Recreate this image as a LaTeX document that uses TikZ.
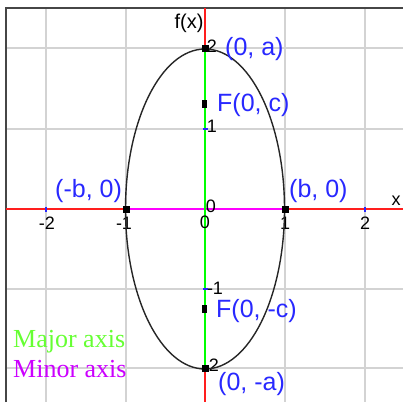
\documentclass[tikz,border=0pt]{standalone}
\usepackage{fontspec}
\setmainfont{Liberation Serif}
\newfontfamily\lsans{Liberation Sans}
\definecolor{gridgray}{RGB}{211,211,211}
\definecolor{framegray}{RGB}{70,70,70}
\definecolor{lblblue}{RGB}{40,40,255}
\definecolor{axred}{RGB}{255,30,30}
\definecolor{axgreen}{RGB}{0,255,0}
\definecolor{axmag}{RGB}{255,0,255}
\definecolor{leggreen}{RGB}{102,255,51}
\definecolor{legmag}{RGB}{204,0,255}
\tikzset{
  gridline/.style={draw=gridgray, line width=2pt},
  frameline/.style={draw=framegray, line width=1.2pt},
  axis/.style={draw=axred, line width=1.8pt},
  majoraxis/.style={draw=axgreen, line width=1.8pt},
  minoraxis/.style={draw=axmag, line width=1.8pt},
  curve/.style={draw=black!85, line width=1.4pt},
  pt/.style={fill=black, inner sep=0pt, minimum size=7pt, rectangle},
  fpt/.style={fill=black, inner sep=0pt, minimum width=5pt, minimum height=8pt, rectangle},
  blbl/.style={text=lblblue, font=\lsans\fontsize{25}{27}\selectfont, inner sep=0pt},
  tick/.style={text=black, font=\lsans\fontsize{18}{20}\selectfont, inner sep=0pt},
  btick/.style={draw=lblblue, line width=1.5pt},
  legend/.style={font=\fontsize{26}{28}\selectfont, inner sep=0pt, anchor=base west}
}
\begin{document}
\begin{tikzpicture}[x=1pt,y=-1pt]
\useasboundingbox (0,0) rectangle (403,402);
\fill[white] (0,0) rectangle (403,402);
% grid
\foreach \gx in {46,126,205,285,365} \draw[gridline] (\gx,8) -- (\gx,402);
\foreach \gy in {48,129,209,289,368} \draw[gridline] (6,\gy) -- (403,\gy);
% frame
\draw[frameline] (6,402) -- (6,8) -- (403,8);
% axes ends
\coordinate (xl) at (6,209);
\coordinate (xr) at (403,209);
\coordinate (yt) at (205,8);
\coordinate (yb) at (205,402);
\coordinate (O) at (205,209);
\draw[axis] (xl) -- (xr);
\draw[axis] (yt) -- (yb);
% key point positions
\coordinate (A)  at (205,48);
\coordinate (Am) at (205,368);
\coordinate (B)  at (285,209);
\coordinate (Bm) at (126,209);
% axes of the ellipse
\draw[minoraxis] (Bm) -- (B);
\draw[majoraxis] (A) -- (Am);
% small blue ticks
\foreach \gx in {46,365} \draw[btick] (\gx,206.5) -- (\gx,211.5);
\foreach \gy in {129,289} \draw[btick] (202.5,\gy) -- (207.5,\gy);
% tick labels
\node[tick] (tm2) at (47,223) {-2};
\node[tick] (tm1) at (124,223) {-1};
\node[tick] (t0a) at (205,222) {0};
\node[tick] (t0b) at (211,206) {0};
\node[tick] (t1)  at (285,223) {1};
\node[tick] (t2)  at (365,223) {2};
\node[tick] (ty1) at (212,126) {1};
\node[tick] (ty2) at (212,46) {2};
\node[tick] (tym1) at (215,288) {-1};
\node[tick] (tym2) at (214,365) {2};
\node[tick, font=\lsans\fontsize{18}{20}\selectfont] (xlab) at (396,201) {x};
\node[tick, font=\lsans\fontsize{20}{22}\selectfont] (fx) at (189,23) {f(x)};
% ellipse
\draw[curve] (O) ellipse [x radius=79.5, y radius=160];
% point markers
\node[pt] (PA)  at (A)  {};
\node[pt] (PAm) at (Am) {};
\node[pt] (PB)  at (B)  {};
\node[pt] (PBm) at (Bm) {};
\node[fpt] (F1) at (204,104) {};
\node[fpt] (F2) at (204,309) {};
% blue labels
\node[blbl, anchor=west] (lA)  at (225,49)  {(0, a)};
\node[blbl, anchor=west] (lF1) at (217,105) {F(0, c)};
\node[blbl, anchor=west] (lBm) at (55,191)  {(-b, 0)};
\node[blbl, anchor=west] (lB)  at (289,191) {(b, 0)};
\node[blbl, anchor=west] (lF2) at (216,311) {F(0, -c)};
\node[blbl, anchor=west] (lAm) at (218,384) {(0, -a)};
% legend
\node[legend, text=leggreen] (lgmaj) at (13,347) {Major axis};
\node[legend, text=legmag] (lgmin) at (13,377) {Minor axis};
\end{tikzpicture}
\end{document}
